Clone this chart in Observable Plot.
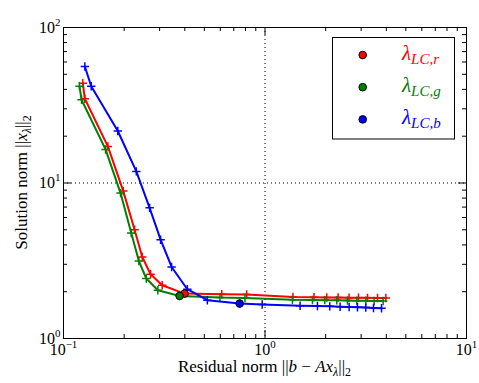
<!DOCTYPE html>
<html>
<head>
<meta charset="utf-8">
<script src="https://cdn.jsdelivr.net/npm/d3@7"></script>
<script src="https://cdn.jsdelivr.net/npm/@observablehq/plot@0.6"></script>
<style>
  body { margin: 0; background: #fff; }
  #wrap { position: relative; width: 479px; height: 383px; }
</style>
</head>
<body>
<div id="wrap"></div>
<script>
// ---- data ----
const channels = ["r", "g", "b"];
const colors = ["#ff0000", "#008000", "#0000ff"];

const residualR = [0.1247, 0.1276, 0.166, 0.198, 0.2253, 0.246, 0.2705, 0.309, 0.399, 0.61, 0.811, 1.377, 1.751, 2.025, 2.305, 2.614, 2.91, 3.227, 3.618, 3.98];
const solutionR = [43.8, 34.8, 17.19, 8.87, 5.01, 3.343, 2.588, 2.199, 1.945, 1.925, 1.917, 1.850, 1.842, 1.837, 1.834, 1.831, 1.828, 1.826, 1.823, 1.820];

const residualG = [0.1201, 0.1229, 0.1617, 0.1919, 0.2169, 0.2366, 0.2575, 0.294, 0.377, 0.5977, 0.7956, 1.368, 1.72, 1.98, 2.271, 2.566, 2.854, 3.164, 3.479, 3.857];
const solutionG = [41.9, 34.3, 16.44, 8.61, 4.77, 3.15, 2.429, 2.043, 1.878, 1.834, 1.823, 1.775, 1.768, 1.764, 1.760, 1.756, 1.752, 1.748, 1.744, 1.741];

const residualB = [0.1276, 0.1373, 0.186, 0.2298, 0.2675, 0.3033, 0.344, 0.4117, 0.5175, 0.7486, 0.9685, 1.493, 1.821, 2.096, 2.359, 2.615, 2.877, 3.163, 3.455, 3.787];
const solutionB = [56.1, 41.9, 21.6, 11.87, 6.92, 4.32, 2.884, 2.074, 1.762, 1.678, 1.656, 1.624, 1.617, 1.610, 1.602, 1.595, 1.588, 1.580, 1.572, 1.565];

const cornerResidual = [0.399, 0.377, 0.7486];
const cornerSolution = [1.945, 1.878, 1.678];

const xMajor = [0.1, 1, 10];
const yMajor = [1, 10, 100];
const xMinor = [0.2,0.3,0.4,0.5,0.6,0.7,0.8,0.9,2,3,4,5,6,7,8,9];
const yMinor = [2,3,4,5,6,7,8,9,20,30,40,50,60,70,80,90];

const xLabelText = "Residual norm ||b − Ax_λ||_2";
const yLabelText = "Solution norm ||x_λ||_2";

// ---- build ----
const series = [
  {res: residualR, sol: solutionR},
  {res: residualG, sol: solutionG},
  {res: residualB, sol: solutionB}
].map((s, i) => ({
  color: colors[i],
  data: s.res.map((r, j) => ({res: r, sol: s.sol[j]})),
  corner: [{res: cornerResidual[i], sol: cornerSolution[i]}]
}));

const W = 479, H = 383, mL = 63, mR = 13, mT = 27, mB = 45;
const fw = W - mL - mR, fh = H - mT - mB;
const majorLen = 8, minorLen = 4;
const FONT = "'Liberation Serif', 'DejaVu Serif', serif";

const plusSymbol = {
  draw(ctx, size) {
    const r = Math.sqrt(size / Math.PI);
    ctx.moveTo(-r, 0); ctx.lineTo(r, 0);
    ctx.moveTo(0, -r); ctx.lineTo(0, r);
  }
};

const supFmt = d => "10^" + String(Math.round(Math.log10(d))).replace("-", "−");

const marks = [
  Plot.ruleX([1], {stroke: "black", strokeWidth: 1, strokeDasharray: "1,3"}),
  Plot.ruleY([10], {stroke: "black", strokeWidth: 1, strokeDasharray: "1,3"}),
  // ticks inside, all four sides
  Plot.tickX(xMajor, {x: d => d, insetTop: fh - majorLen, stroke: "black"}),
  Plot.tickX(xMajor, {x: d => d, insetBottom: fh - majorLen, stroke: "black"}),
  Plot.tickX(xMinor, {x: d => d, insetTop: fh - minorLen, stroke: "black"}),
  Plot.tickX(xMinor, {x: d => d, insetBottom: fh - minorLen, stroke: "black"}),
  Plot.tickY(yMajor, {y: d => d, insetRight: fw - majorLen, stroke: "black"}),
  Plot.tickY(yMajor, {y: d => d, insetLeft: fw - majorLen, stroke: "black"}),
  Plot.tickY(yMinor, {y: d => d, insetRight: fw - minorLen, stroke: "black"}),
  Plot.tickY(yMinor, {y: d => d, insetLeft: fw - minorLen, stroke: "black"}),
  Plot.axisX({ticks: xMajor, tickSize: 0, tickPadding: 5, tickFormat: supFmt, label: null, fontSize: 16}),
  Plot.axisY({ticks: yMajor, tickSize: 0, tickPadding: 3, tickFormat: supFmt, label: null, fontSize: 16}),
];

for (const s of series) {
  marks.push(Plot.line(s.data, {x: "res", y: "sol", stroke: s.color, strokeWidth: 2}));
  marks.push(Plot.dot(s.data, {x: "res", y: "sol", symbol: plusSymbol, r: 4.2, stroke: s.color, strokeWidth: 1.5, fill: "none"}));
}
for (const s of series) {
  marks.push(Plot.dot(s.corner, {x: "res", y: "sol", r: 3.8, fill: s.color, stroke: "black", strokeWidth: 1}));
}
marks.push(Plot.frame({stroke: "black", strokeWidth: 1}));
marks.push(Plot.text([xLabelText], {text: d => d, frameAnchor: "bottom", dy: 33, fontSize: 17}));
marks.push(Plot.text([yLabelText], {text: d => d, frameAnchor: "left", dx: -42, rotate: -90, fontSize: 17}));

const svg = Plot.plot({
  width: W, height: H,
  marginLeft: mL, marginRight: mR, marginTop: mT, marginBottom: mB,
  x: {type: "log", domain: [0.1, 10]},
  y: {type: "log", domain: [1, 100]},
  style: {fontFamily: FONT, fontSize: "16px", color: "black", background: "white", overflow: "visible"},
  marks
});

// ---- rich text ----
const NS = "http://www.w3.org/2000/svg";
function richText(el, parts) {
  el.textContent = "";
  let shift = 0;
  for (const p of parts) {
    const ts = document.createElementNS(NS, "tspan");
    const s = p.shift || 0;
    if (s !== shift) ts.setAttribute("dy", (s - shift) + "px");
    shift = s;
    if (p.italic) ts.setAttribute("font-style", "italic");
    if (p.size) ts.setAttribute("font-size", p.size + "px");
    ts.textContent = p.t;
    el.appendChild(ts);
  }
}
let xLabelEl = null, yLabelEl = null;
d3.select(svg).selectAll("text").each(function() {
  const t = this.textContent;
  const m = /^10\^(.+)$/.exec(t);
  if (m) {
    richText(this, [{t: "10"}, {t: m[1], size: 11, shift: -7}]);
  } else if (t === xLabelText) {
    xLabelEl = this;
    richText(this, [
      {t: "Residual norm ||"}, {t: "b", italic: true}, {t: " − "},
      {t: "Ax", italic: true}, {t: "λ", italic: true, size: 12, shift: 4},
      {t: "||"}, {t: "2", size: 12, shift: 4}
    ]);
  } else if (t === yLabelText) {
    yLabelEl = this;
    richText(this, [
      {t: "Solution norm ||"}, {t: "x", italic: true}, {t: "λ", italic: true, size: 12, shift: 4},
      {t: "||"}, {t: "2", size: 12, shift: 4}
    ]);
  }
});

// ---- legend (inside the axes, upper right) ----
const lg = d3.select(svg).append("g").attr("font-family", FONT).attr("text-anchor", "start");
lg.append("rect").attr("x", 332.5).attr("y", 37.5).attr("width", 122).attr("height", 101.5)
  .attr("fill", "white").attr("stroke", "black");
channels.forEach((c, i) => {
  const cy = 55 + i * 32.2;
  lg.append("circle").attr("cx", 362.7).attr("cy", cy).attr("r", 3.8)
    .attr("fill", colors[i]).attr("stroke", "black");
  const t = lg.append("text").attr("x", 402).attr("y", cy + 4.5).attr("fill", colors[i]).attr("text-anchor", "start");
  t.append("tspan").attr("font-style", "italic").attr("font-size", "21px").text("λ");
  t.append("tspan").attr("font-style", "italic").attr("font-size", "15px").attr("dy", "4").text("LC," + c);
});

document.getElementById("wrap").appendChild(svg);

// center the axis labels on the frame (measured after layout)
function recenter(el, axis, target) {
  if (!el) return;
  const sr = svg.getBoundingClientRect();
  const r = el.getBoundingClientRect();
  const prev = el.getAttribute("transform") || "";
  if (axis === "x") {
    const d = target - (r.left - sr.left + r.width / 2);
    el.setAttribute("transform", `translate(${d},0) ${prev}`);
  } else {
    const d = target - (r.top - sr.top + r.height / 2);
    el.setAttribute("transform", `translate(0,${d}) ${prev}`);
  }
}
recenter(xLabelEl, "x", mL + fw / 2);
recenter(yLabelEl, "y", mT + fh / 2);
</script>
</body>
</html>
